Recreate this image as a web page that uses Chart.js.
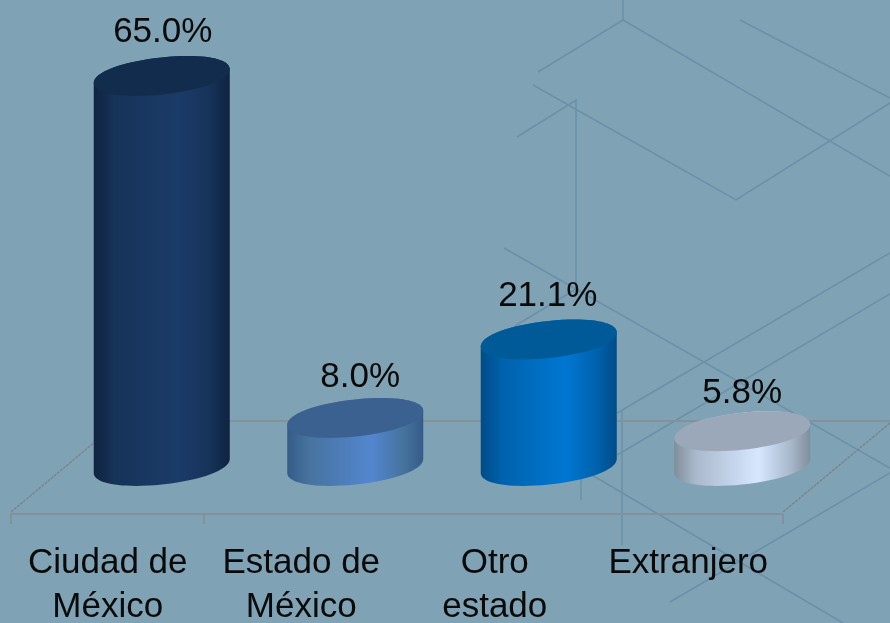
<!DOCTYPE html>
<html lang="es">
<head>
<meta charset="utf-8">
<title>Lugar de residencia</title>
<script src="https://cdn.jsdelivr.net/npm/chart.js@4"></script>
<style>
html,body{margin:0;padding:0;background:#7fa2b4;overflow:hidden}
canvas{display:block;filter:blur(0.45px)}
</style>
</head>
<body>
<canvas id="c" width="890" height="623"></canvas>
<script>
const categories = [["Ciudad de","México"],["Estado de","México"],["Otro","estado"],["Extranjero"]];
const values = [65.0, 8.0, 21.1, 5.8];
const valueLabels = ["65.0%","8.0%","21.1%","5.8%"];
const sideDark = ["#0f2440","#365c88","#004c88","#808e9c"];
const sideMid = ["#163359","#47739f","#0062ad","#aab9cc"];
const sideLight = ["#1b3b68","#5386cf","#0077d2","#d6e7ff"];
const topColors = ["#122c4e","#3b6190","#005a98","#9aa8b9"];
const labelShift = [1, 5, -1, 0];
const labelRise = [44, 41, 43, 38];

const FONT = '35px "Liberation Sans", Arial, sans-serif';

function sideGradient(ctx, left, right, i){
  const g = ctx.createLinearGradient(left, 0, right, 0);
  g.addColorStop(0, sideDark[i]);
  g.addColorStop(0.16, sideMid[i]);
  g.addColorStop(0.62, sideLight[i]);
  g.addColorStop(0.85, sideMid[i]);
  g.addColorStop(1, sideDark[i]);
  return g;
}

const KAPPA = 0.58, TILT = -7/68, CAP = 18.5;
function capPoint(cx, cy, a, px, py){ return [cx + px*a, cy + TILT*px*a + py*CAP]; }
function lowerCurve(c, cx, cy, a){
  const p = (x,y)=>capPoint(cx,cy,a,x,y);
  let q1=p(-1,KAPPA), q2=p(-KAPPA,1), q3=p(0,1);
  c.bezierCurveTo(q1[0],q1[1],q2[0],q2[1],q3[0],q3[1]);
  q1=p(KAPPA,1); q2=p(1,KAPPA); q3=p(1,0);
  c.bezierCurveTo(q1[0],q1[1],q2[0],q2[1],q3[0],q3[1]);
}
function upperCurve(c, cx, cy, a){
  const p = (x,y)=>capPoint(cx,cy,a,x,y);
  let q1=p(1,-KAPPA), q2=p(KAPPA,-1), q3=p(0,-1);
  c.bezierCurveTo(q1[0],q1[1],q2[0],q2[1],q3[0],q3[1]);
  q1=p(-KAPPA,-1); q2=p(-1,-KAPPA); q3=p(-1,0);
  c.bezierCurveTo(q1[0],q1[1],q2[0],q2[1],q3[0],q3[1]);
}

const backdrop = {
  id:'backdrop',
  beforeDraw(chart){
    const c = chart.ctx;
    c.save();
    c.fillStyle = '#7fa2b4';
    c.fillRect(0,0,chart.width,chart.height);
    // decorative wireframe behind the chart
    c.strokeStyle = '#6a91a8';
    c.lineWidth = 1.5;
    const deco = [
      [[623,0],[623,20]],[[623,20],[538,72]],[[623,20],[890,176]],
      [[740,20],[890,98]],[[533,85],[736,200],[890,103]],
      [[517,137],[576,100],[576,288]],[[504,248],[890,468]],
      [[515,326],[576,289]],[[622,411],[622,545]],[[617,413],[890,253]],
      [[617,455],[890,294]],[[580,468],[843,623]],[[670,602],[890,473]],
      [[581,478],[581,500]]
    ];
    deco.forEach(p=>{
      c.beginPath();
      p.forEach((q,i)=> i?c.lineTo(q[0],q[1]):c.moveTo(q[0],q[1]));
      c.stroke();
    });
    // floor of the pseudo-3D plot
    c.strokeStyle = '#84919a';
    c.lineWidth = 2;
    c.beginPath();c.moveTo(120,421);c.lineTo(890,421);c.stroke();
    c.beginPath();c.moveTo(11,514);c.lineTo(783,514);c.stroke();
    [11,204,783].forEach(x=>{c.beginPath();c.moveTo(x,514);c.lineTo(x,524);c.stroke();});
    c.lineWidth = 1.4;
    c.strokeStyle = '#78858d';
    c.setLineDash([3,1]);
    c.beginPath();c.moveTo(11,512);c.lineTo(120,421);c.stroke();
    c.beginPath();c.moveTo(783,512);c.lineTo(890,423);c.stroke();
    c.restore();
  }
};

const cylinders = {
  id:'cylinders',
  beforeDatasetDraw(chart, args){
    const c = chart.ctx;
    const meta = args.meta;
    meta.data.forEach((el,i)=>{
      const cx = el.x, top = el.y, base = el.base, a = el.width/2;
      const dy = TILT*a;
      c.save();
      // body silhouette
      c.fillStyle = el.options.backgroundColor;
      c.beginPath();
      c.moveTo(cx+a, top+dy);
      upperCurve(c, cx, top, a);
      c.lineTo(cx-a, base-dy);
      lowerCurve(c, cx, base, a);
      c.closePath();
      c.fill();
      // top cap
      c.fillStyle = topColors[i];
      c.beginPath();
      c.moveTo(cx+a, top+dy);
      upperCurve(c, cx, top, a);
      lowerCurve(c, cx, top, a);
      c.closePath();
      c.fill();
      // value label
      c.fillStyle = '#0a0a0a';
      c.font = FONT;
      c.textAlign = 'center';
      c.textBaseline = 'middle';
      c.fillText(valueLabels[i], cx+labelShift[i], top-labelRise[i]);
      c.restore();
    });
    return false;
  }
};

new Chart(document.getElementById('c'),{
  type:'bar',
  data:{
    labels:categories,
    datasets:[{
      data:values,
      barPercentage:0.703,
      categoryPercentage:1,
      backgroundColor(ctx){
        const ch = ctx.chart, i = ctx.dataIndex;
        if(!ch.chartArea || i===undefined) return sideLight[i||0];
        const x = ch.scales.x.getPixelForValue(i);
        const half = ch.scales.x.width/4*0.703/2;
        return sideGradient(ch.ctx, x-half, x+half, i);
      }
    }]
  },
  options:{
    responsive:false,
    animation:false,
    events:[],
    layout:{padding:{left:65,right:51,top:76,bottom:0}},
    plugins:{legend:{display:false},tooltip:{enabled:false},title:{display:false}},
    scales:{
      x:{
        type:'category',
        offset:true,
        border:{display:false},
        grid:{display:false,drawTicks:false},
        afterFit(s){s.height=157;s.paddingLeft=0;s.paddingRight=0;},
        ticks:{
          color:'#0a0a0a',
          font:{family:'"Liberation Sans", Arial, sans-serif',size:35,lineHeight:1.26},
          padding:75,
          labelOffset:-54,
          autoSkip:false,
          maxRotation:0,
          minRotation:0
        }
      },
      y:{
        display:false,
        min:0,
        max:65
      }
    }
  },
  plugins:[backdrop,cylinders]
});
</script>
</body>
</html>
